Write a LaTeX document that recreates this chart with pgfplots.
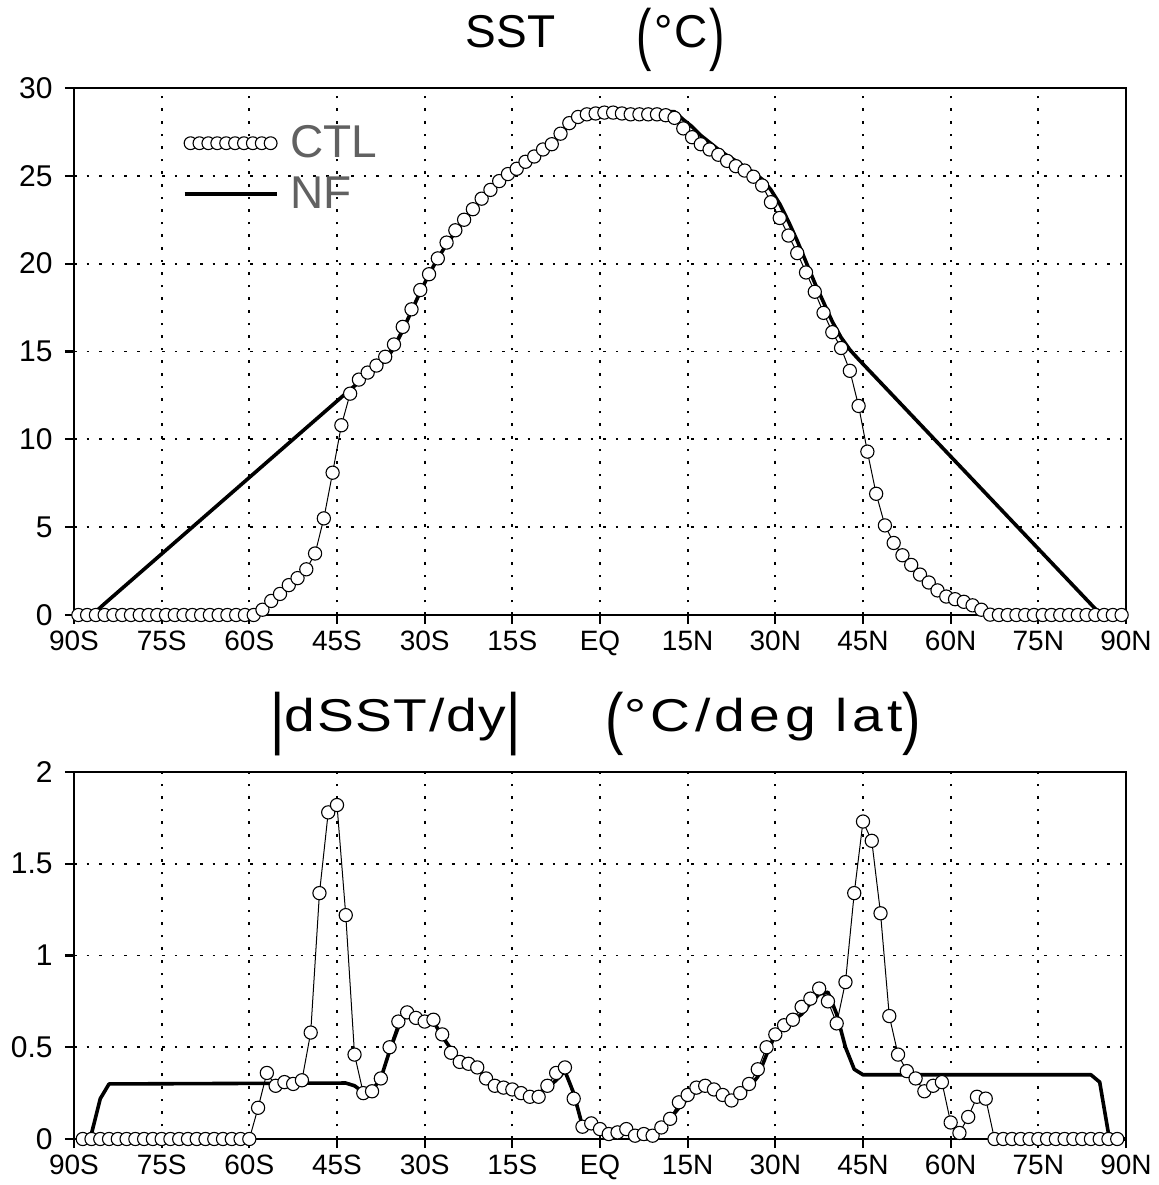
\documentclass[border=0pt]{standalone}
\usepackage{fontspec}
\setmainfont{Liberation Sans}
\usepackage{pgfplots}
\pgfplotsset{compat=1.18}
\newcommand{\tall}[1]{\raisebox{-0.2em}{\scalebox{1}[1.48]{#1}}}
\pgfplotsset{
  gradsbase/.style={
    scale only axis, anchor=south west,
    xmin=-90, xmax=90,
    xtick={-90,-75,...,90},
    xticklabels={90S,75S,60S,45S,30S,15S,EQ,15N,30N,45N,60N,75N,90N},
    grid=major,
    grid style={black, line width=0.9pt, dash pattern=on 1.3pt off 5pt},
    axis line style={black, line width=1.4pt},
    tick pos=left, tick align=outside,
    major tick length=4.5pt,
    tick style={black, line width=1.1pt},
    xticklabel style={font=\fontsize{14}{14}\selectfont, inner sep=1pt, yshift=-2.5pt},
    yticklabel style={font=\fontsize{15}{15}\selectfont, inner sep=1pt, xshift=-5pt},
    /pgf/number format/assume math mode=true,
    clip=false,
  },
  ctl/.style={black, line width=0.5pt, mark=*, mark size=3.3pt,
    mark options={fill=white, draw=black, line width=0.55pt}},
  nf/.style={black, line width=1.8pt, no marks, line join=round},
}
\begin{document}
\begin{tikzpicture}
\path[use as bounding box] (0,0) rectangle (579.5pt,592.5pt);
% titles
\node[anchor=base, font=\fontsize{23}{23}\selectfont] at (255.25pt,568.5pt) {SST};
\node[anchor=base, font=\fontsize{23}{23}\selectfont\addfontfeature{LetterSpace=4}] at (340.5pt,568.5pt) {\tall{(}\kern1pt°C\kern1pt\tall{)}};
\node[anchor=base, font=\fontsize{23}{23}\selectfont\addfontfeature{LetterSpace=3}] at (197.75pt,226.5pt) {\scalebox{1.2}[1]{\tall{|}dSST/dy\tall{|}}};
\node[anchor=base, font=\fontsize{23}{23}\selectfont\addfontfeature{LetterSpace=8}] at (381.75pt,226.5pt) {\scalebox{1.2}[1]{\tall{(}°C/deg lat\tall{)}}};

\begin{axis}[gradsbase, at={(37pt,285pt)}, width=526pt, height=263.5pt,
  ymin=0, ymax=30, ytick={0,5,...,30},
  legend style={at={(rel axis cs:0.103,0.935)}, anchor=north west, draw=none, fill=none,
    font=\fontsize{23}{23}\selectfont, text=black!62, row sep=5pt, inner sep=0pt,
    nodes={inner sep=1.5pt},
    /tikz/every odd column/.append style={column sep=4.5pt}},
  legend cell align=left]
\addplot[ctl, legend image code/.code={%
  \foreach \i in {0,...,9}{\draw[black, line width=0.55pt, fill=white] (\i*4.45pt,0pt) circle[radius=3.2pt];}}]
coordinates {
(-89.25,0) (-87.75,0) (-86.25,0) (-84.75,0) (-83.25,0) (-81.75,0) (-80.25,0) (-78.75,0)
(-77.25,0) (-75.75,0) (-74.25,0) (-72.75,0) (-71.25,0) (-69.75,0) (-68.25,0) (-66.75,0)
(-65.25,0) (-63.75,0) (-62.25,0) (-60.75,0) (-59.25,0) (-57.75,0.3) (-56.25,0.8) (-54.75,1.2)
(-53.25,1.7) (-51.75,2.1) (-50.25,2.6) (-48.75,3.5) (-47.25,5.5) (-45.75,8.1) (-44.25,10.8)
(-42.75,12.6) (-41.25,13.4) (-39.75,13.8) (-38.25,14.2) (-36.75,14.7) (-35.25,15.4)
(-33.75,16.4) (-32.25,17.4) (-30.75,18.5) (-29.25,19.4) (-27.75,20.3) (-26.25,21.2)
(-24.75,21.9) (-23.25,22.5) (-21.75,23.1) (-20.25,23.7) (-18.75,24.2) (-17.25,24.7)
(-15.75,25.1) (-14.25,25.4) (-12.75,25.8) (-11.25,26.1) (-9.75,26.5) (-8.25,26.8)
(-6.75,27.4) (-5.25,28.0) (-3.75,28.35) (-2.25,28.5) (-0.75,28.55) (0.75,28.6) (2.25,28.6)
(3.75,28.55) (5.25,28.5) (6.75,28.5) (8.25,28.5) (9.75,28.5) (11.25,28.45) (12.75,28.3)
(14.25,27.7) (15.75,27.2) (17.25,26.8) (18.75,26.5) (20.25,26.2) (21.75,25.85) (23.25,25.55)
(24.75,25.3) (26.25,24.95) (27.75,24.45) (29.25,23.5) (30.75,22.6) (32.25,21.6) (33.75,20.6)
(35.25,19.5) (36.75,18.4) (38.25,17.2) (39.75,16.1) (41.25,15.2) (42.75,13.9) (44.25,11.9)
(45.75,9.3) (47.25,6.9) (48.75,5.1) (50.25,4.1) (51.75,3.4) (53.25,2.85) (54.75,2.3)
(56.25,1.85) (57.75,1.4) (59.25,1.05) (60.75,0.9) (62.25,0.75) (63.75,0.55) (65.25,0.3)
(66.75,0.02) (68.25,0) (69.75,0) (71.25,0) (72.75,0) (74.25,0) (75.75,0) (77.25,0) (78.75,0)
(80.25,0) (81.75,0) (83.25,0) (84.75,0) (86.25,0) (87.75,0) (89.25,0)
};
\addlegendentry{CTL}
\addplot[nf, legend image code/.code={%
  \path (-3pt,0) -- (43pt,0); \draw[black, line width=1.8pt] (1pt,0pt) -- (40pt,0pt);}]
coordinates {
(-89.25,0) (-87.75,0.02) (-86.25,0.2) (-84.75,0.65) (-42.75,12.83) (-41.25,13.25)
(-39.75,13.65) (-38.25,14.05) (-36.75,14.5) (-35.25,15.2) (-33.75,16.2) (-32.25,17.3)
(-30.75,18.4) (-29.25,19.4) (-27.75,20.3) (-26.25,21.1) (-24.75,21.8) (-23.25,22.5)
(-21.75,23.1) (-20.25,23.6) (-18.75,24.1) (-17.25,24.6) (-15.75,25.0) (-14.25,25.4)
(-12.75,25.75) (-11.25,26.1) (-9.75,26.45) (-8.25,26.8) (-6.75,27.3) (-5.25,27.9)
(-3.75,28.45) (-2.25,28.62) (-0.75,28.65) (12.75,28.65) (14.25,28.2) (15.75,27.8)
(17.25,27.3) (18.75,26.9) (20.25,26.5) (21.75,26.15) (23.25,25.85) (24.75,25.5)
(26.25,25.2) (27.75,24.8) (29.25,24.2) (30.75,23.4) (32.25,22.4) (33.75,21.3) (35.25,20.1)
(36.75,18.9) (38.25,17.8) (39.75,16.7) (41.25,15.8) (42.75,15.1) (44.25,14.55)
(84.75,0.35) (86.25,0.05) (87.75,0) (89.25,0)
};
\addlegendentry{NF}
\end{axis}

\begin{axis}[gradsbase, at={(37pt,23pt)}, width=526pt, height=183.5pt,
  ymin=0, ymax=2, ytick={0,0.5,1,1.5,2}, yticklabels={0,0.5,1,1.5,2}]
\addplot[ctl] coordinates {
(-88.5,0) (-87,0) (-85.5,0) (-84,0) (-82.5,0) (-81,0) (-79.5,0) (-78,0) (-76.5,0) (-75,0)
(-73.5,0) (-72,0) (-70.5,0) (-69,0) (-67.5,0) (-66,0) (-64.5,0) (-63,0) (-61.5,0) (-60,0)
(-58.5,0.17) (-57,0.36) (-55.5,0.29) (-54,0.31) (-52.5,0.30) (-51,0.32) (-49.5,0.58)
(-48,1.34) (-46.5,1.78) (-45,1.82) (-43.5,1.22) (-42,0.46) (-40.5,0.25) (-39,0.26)
(-37.5,0.33) (-36,0.50) (-34.5,0.64) (-33,0.69) (-31.5,0.66) (-30,0.64) (-28.5,0.65)
(-27,0.57) (-25.5,0.47) (-24,0.42) (-22.5,0.41) (-21,0.39) (-19.5,0.33) (-18,0.29)
(-16.5,0.28) (-15,0.27) (-13.5,0.25) (-12,0.23) (-10.5,0.23) (-9,0.29) (-7.5,0.36)
(-6,0.39) (-4.5,0.22) (-3,0.067) (-1.5,0.085) (0,0.054) (1.5,0.027) (3,0.036) (4.5,0.054)
(6,0.018) (7.5,0.027) (9,0.018) (10.5,0.063) (12,0.11) (13.5,0.2) (15,0.24) (16.5,0.28)
(18,0.29) (19.5,0.27) (21,0.24) (22.5,0.21) (24,0.25) (25.5,0.30) (27,0.38) (28.5,0.50)
(30,0.57) (31.5,0.62) (33,0.65) (34.5,0.72) (36,0.765) (37.5,0.82) (39,0.75) (40.5,0.63)
(42,0.855) (43.5,1.34) (45,1.73) (46.5,1.625) (48,1.23) (49.5,0.67) (51,0.46) (52.5,0.37)
(54,0.33) (55.5,0.26) (57,0.29) (58.5,0.31) (60,0.09) (61.5,0.033) (63,0.12) (64.5,0.23)
(66,0.22) (67.5,0) (69,0) (70.5,0) (72,0) (73.5,0) (75,0) (76.5,0) (78,0) (79.5,0) (81,0)
(82.5,0) (84,0) (85.5,0) (87,0) (88.5,0)
};
\addplot[nf] coordinates {
(-88.5,0) (-87,0.03) (-85.5,0.22) (-84,0.30) (-43.5,0.305) (-42,0.29) (-40.5,0.255)
(-39,0.265) (-37.5,0.33) (-36,0.48) (-34.5,0.61) (-33,0.685) (-31.5,0.655) (-30,0.645)
(-28.5,0.64) (-27,0.56) (-25.5,0.49) (-24,0.42) (-22.5,0.41) (-21,0.39) (-19.5,0.33)
(-18,0.30) (-16.5,0.28) (-15,0.265) (-13.5,0.255) (-12,0.235) (-10.5,0.25) (-9,0.28)
(-7.5,0.32) (-6,0.37) (-4.5,0.25) (-3,0.07) (-1.5,0.075) (0,0.05) (1.5,0.03) (3,0.03)
(4.5,0.035) (6,0.01) (7.5,0) (9,0.005) (10.5,0.05) (12,0.11) (13.5,0.17) (15,0.22)
(16.5,0.26) (18,0.28) (19.5,0.27) (21,0.24) (22.5,0.22) (24,0.24) (25.5,0.28) (27,0.34)
(28.5,0.46) (30,0.57) (31.5,0.62) (33,0.645) (34.5,0.68) (36,0.74) (37.5,0.79) (39,0.80)
(40.5,0.68) (42,0.50) (43.5,0.38) (45,0.35) (84,0.35) (85.5,0.31) (87,0.03) (88.5,0) (90,0)
};
\end{axis}
\end{tikzpicture}
\end{document}
